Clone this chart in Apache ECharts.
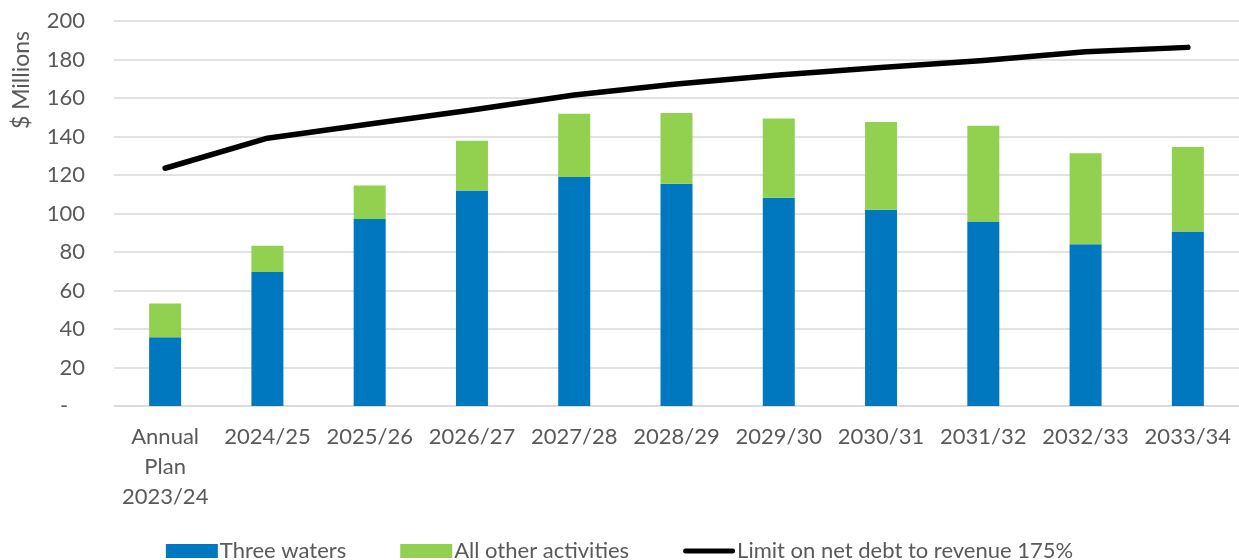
<!DOCTYPE html>
<html>
<head>
<meta charset="utf-8">
<script src="https://cdn.jsdelivr.net/npm/echarts@6/dist/echarts.min.js"></script>
<style>
  html, body { margin: 0; padding: 0; background: #fff; }
  #chart { width: 1239px; height: 560px; }
</style>
</head>
<body>
<div id="chart"></div>
<script>
// Net debt by year ($ millions)
const years = ['Annual\nPlan\n2023/24', '2024/25', '2025/26', '2026/27', '2027/28', '2028/29',
               '2029/30', '2030/31', '2031/32', '2032/33', '2033/34'];
const threeWaters = [35.7, 69.6, 97.1, 111.9, 119.0, 115.5, 108.2, 102.0, 95.8, 84.0, 90.6];
const otherActivities = [17.6, 13.7, 17.5, 25.9, 32.8, 36.7, 41.1, 45.5, 49.8, 47.3, 43.9];
const debtLimit = [123.5, 139.1, 146.5, 153.8, 161.6, 167.3, 172.0, 175.8, 179.5, 184.0, 186.3];
const yTicks = { min: 0, max: 200, step: 20 };

const FONT = 'Lato, "Open Sans", sans-serif';
const TEXT = '#595959';

// thick rounded bar used as the legend marker for the limit line
const LINE_ICON = 'path://M2.5,0 L49.5,0 A2.5,2.5 0 0 1 49.5,5 L2.5,5 A2.5,2.5 0 0 1 2.5,0 Z';

const chart = echarts.init(document.getElementById('chart'), null, { renderer: 'canvas' });
chart.setOption({
  animation: false,
  textStyle: { fontFamily: FONT },
  grid: { left: 114, right: 0, top: 21, bottom: 154, containLabel: false },
  graphic: [{
    type: 'text',
    x: 22, y: 80,
    rotation: Math.PI / 2,
    style: {
      text: '$ Millions',
      font: '23px ' + FONT,
      fill: TEXT,
      align: 'center',
      verticalAlign: 'middle'
    }
  }],
  legend: {
    left: 'center',
    top: 535,
    itemWidth: 52,
    itemHeight: 14,
    itemGap: 54,
    symbolKeepAspect: true,
    textStyle: { fontSize: 22, color: TEXT, fontFamily: FONT, padding: [0, 0, 0, -3] },
    data: [
      { name: 'Three waters', icon: 'rect' },
      { name: 'All other activities', icon: 'rect' },
      { name: 'Limit on net debt to revenue 175%', icon: LINE_ICON, itemStyle: { color: '#000' } }
    ]
  },
  xAxis: {
    type: 'category',
    data: years,
    axisLine: { lineStyle: { color: '#d9d9d9', width: 1.5 } },
    axisTick: { show: false },
    axisLabel: {
      color: TEXT, fontSize: 22, lineHeight: 30, margin: 16, interval: 0
    }
  },
  yAxis: {
    type: 'value',
    min: yTicks.min, max: yTicks.max, interval: yTicks.step,
    axisLine: { show: false },
    axisTick: { show: false },
    splitLine: { lineStyle: { color: '#d9d9d9', width: 1.5 } },
    axisLabel: {
      color: TEXT, fontSize: 22, margin: 29,
      formatter: v => (v === 0 ? '-   ' : String(v))
    }
  },
  series: [
    {
      name: 'Three waters',
      type: 'bar',
      stack: 'debt',
      barWidth: 32,
      data: threeWaters,
      itemStyle: { color: '#0078c0' }
    },
    {
      name: 'All other activities',
      type: 'bar',
      stack: 'debt',
      barWidth: 32,
      data: otherActivities,
      itemStyle: { color: '#92d050' }
    },
    {
      name: 'Limit on net debt to revenue 175%',
      type: 'line',
      data: debtLimit,
      symbol: 'none',
      itemStyle: { color: '#000' },
      lineStyle: { color: '#000', width: 5.5, cap: 'round', join: 'round' }
    }
  ]
});
</script>
</body>
</html>
